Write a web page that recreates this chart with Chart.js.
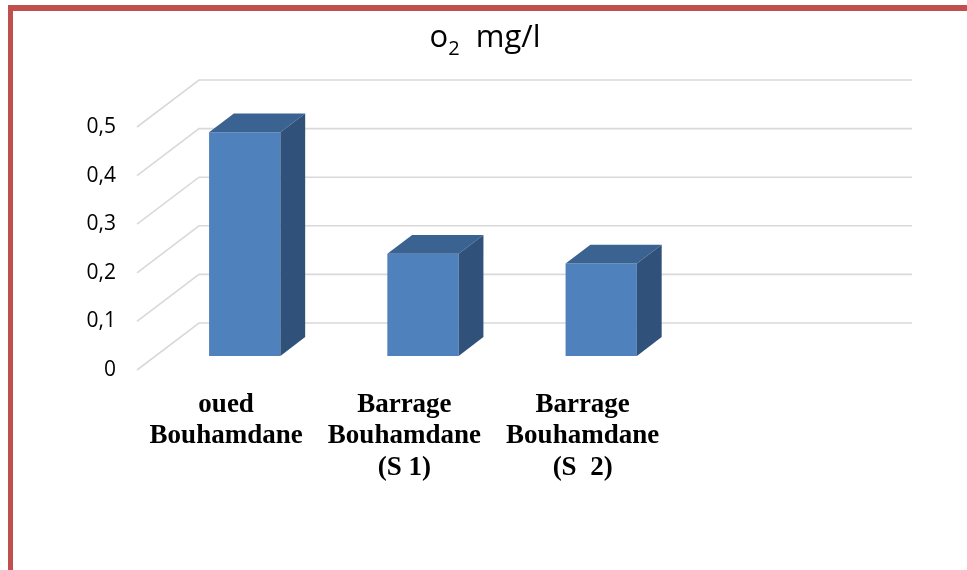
<!DOCTYPE html>
<html>
<head>
<meta charset="utf-8">
<title>O2 mg/l</title>
<script src="https://cdn.jsdelivr.net/npm/chart.js@4/dist/chart.umd.min.js"></script>
<style>
  html, body { margin: 0; padding: 0; background: #ffffff; }
  canvas { display: block; }
</style>
</head>
<body>
<canvas id="chart" width="967" height="570"></canvas>
<script>
// Sampling sites (multi-line labels) and dissolved oxygen values
const categories = [
  ["oued", "Bouhamdane"],
  ["Barrage", "Bouhamdane", "(S 1)"],
  ["Barrage", "Bouhamdane", "(S  2)"],
  ""
];
const o2Values = [0.46, 0.21, 0.19, null];
const yTicks = [0, 0.1, 0.2, 0.3, 0.4, 0.5];
const titleMain = "o";
const titleSub = "2";
const titleRest = "  mg/l";

// depth of the 3D box (back wall offset) and bar placement inside it
const DEPTH_X = 62, DEPTH_Y = -47;
const BAR_FRONT = 0.3, BAR_DEPTH = 0.4;

const FRONT = '#4F81BD', TOP = '#3B6392', SIDE = '#30527A';
const GRID = '#D9D9D9';

const box3d = {
  id: 'box3d',
  beforeDraw(chart) {
    const ctx = chart.ctx;
    ctx.save();
    // frame around the chart
    ctx.fillStyle = '#C0504D';
    ctx.fillRect(8, 5, 967, 6);
    ctx.fillRect(8, 5, 5, 570);
    ctx.restore();
  },
  beforeDatasetsDraw(chart) {
    const ctx = chart.ctx;
    const { left, right } = chart.chartArea;
    const y = chart.scales.y;
    ctx.save();
    ctx.strokeStyle = GRID;
    ctx.lineWidth = 1.6;
    yTicks.forEach(v => {
      const py = y.getPixelForValue(v);
      ctx.beginPath();
      ctx.moveTo(left, py);
      ctx.lineTo(left + DEPTH_X, py + DEPTH_Y);
      ctx.lineTo(right + DEPTH_X, py + DEPTH_Y);
      ctx.stroke();
    });
    ctx.restore();
    // front faces are drawn by Chart.js, shifted into the box
    ctx.save();
    ctx.translate(DEPTH_X * BAR_FRONT, DEPTH_Y * BAR_FRONT);
  },
  afterDatasetsDraw(chart) {
    const ctx = chart.ctx;
    ctx.restore();
    const fx = DEPTH_X * BAR_FRONT, fy = DEPTH_Y * BAR_FRONT;
    const dx = DEPTH_X * BAR_DEPTH, dy = DEPTH_Y * BAR_DEPTH;
    const meta = chart.getDatasetMeta(0);
    ctx.save();
    meta.data.forEach((bar, i) => {
      if (o2Values[i] == null) return;
      const { x, y, base, width } = bar.getProps(['x', 'y', 'base', 'width'], true);
      const l = x - width / 2 + fx, r = x + width / 2 + fx;
      const t = y + fy, b = base + fy;
      // top face
      ctx.fillStyle = TOP;
      ctx.beginPath();
      ctx.moveTo(l, t); ctx.lineTo(l + dx, t + dy);
      ctx.lineTo(r + dx, t + dy); ctx.lineTo(r, t);
      ctx.closePath(); ctx.fill();
      // side face
      ctx.fillStyle = SIDE;
      ctx.beginPath();
      ctx.moveTo(r, t); ctx.lineTo(r + dx, t + dy);
      ctx.lineTo(r + dx, b + dy); ctx.lineTo(r, b);
      ctx.closePath(); ctx.fill();
    });
    ctx.restore();
  },
  afterDraw(chart) {
    const ctx = chart.ctx;
    ctx.save();
    ctx.fillStyle = '#000000';
    ctx.textBaseline = 'alphabetic';
    const big = '31px "Open Sans"', small = '20px "Open Sans"';
    ctx.font = big;
    const w1 = ctx.measureText(titleMain).width;
    const w3 = ctx.measureText(titleRest).width;
    ctx.font = small;
    const w2 = ctx.measureText(titleSub).width;
    const total = w1 + w2 + w3;
    let x = 485 - total / 2;
    const base = 47;
    ctx.font = big;
    ctx.fillText(titleMain, x, base); x += w1;
    ctx.font = small;
    ctx.fillText(titleSub, x, base + 8); x += w2;
    ctx.font = big;
    ctx.fillText(titleRest, x, base);
    ctx.restore();
  }
};

new Chart(document.getElementById('chart'), {
  type: 'bar',
  plugins: [box3d],
  data: {
    labels: categories,
    datasets: [{
      data: o2Values,
      backgroundColor: FRONT,
      borderWidth: 0,
      barPercentage: 0.4,
      categoryPercentage: 1,
      clip: false
    }]
  },
  options: {
    responsive: false,
    devicePixelRatio: 1,
    animation: false,
    layout: { padding: { top: 127, right: 117, left: 0, bottom: 0 } },
    plugins: {
      legend: { display: false },
      tooltip: { enabled: false },
      title: { display: false }
    },
    scales: {
      x: {
        offset: true,
        grid: { display: false, drawTicks: false },
        border: { display: false },
        ticks: {
          color: '#000000',
          padding: 19,
          maxRotation: 0,
          autoSkip: false,
          font: { family: '"Liberation Serif", "Times New Roman", serif', size: 27, weight: 'bold', lineHeight: 1.17 }
        },
        afterFit(scale) { scale.height = 200; }
      },
      y: {
        min: 0,
        max: 0.5,
        grid: { display: false, drawTicks: false },
        border: { display: false },
        ticks: {
          stepSize: 0.1,
          padding: 21,
          color: '#000000',
          font: { family: '"Open Sans", sans-serif', size: 21 },
          callback: v => {
            const r = Math.round(v * 10) / 10;
            return r === 0 ? '0' : r.toFixed(1).replace('.', ',');
          }
        },
        afterFit(scale) { scale.width = 137; }
      }
    }
  }
});
</script>
</body>
</html>
